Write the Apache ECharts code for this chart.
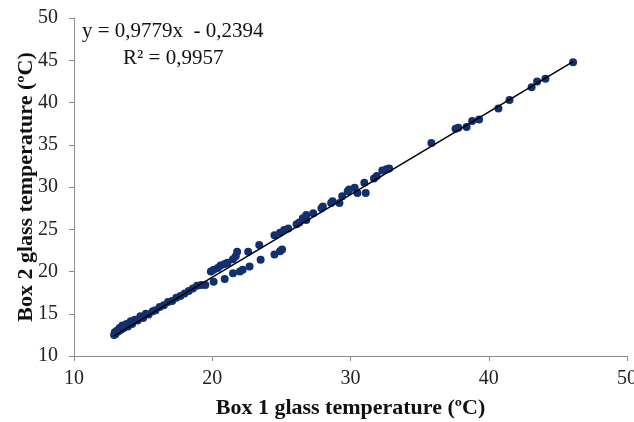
<!DOCTYPE html>
<html>
<head>
<meta charset="utf-8">
<script src="https://cdn.jsdelivr.net/npm/echarts@6/dist/echarts.min.js"></script>
<style>
  html, body { margin: 0; padding: 0; background: #fff; }
  #chart { width: 634px; height: 422px; }
</style>
</head>
<body>
<div id="chart"></div>
<script>
// box 1 / box 2 glass temperature pairs
var lowPoints = [
  [12.9, 12.5], [12.95, 12.8], [13.0, 12.6], [13.1, 13.0], [13.2, 12.9],
  [13.3, 13.3], [13.4, 13.1], [13.5, 13.6], [13.6, 13.3], [13.8, 13.8],
  [13.9, 13.5], [14.1, 14.1], [14.2, 13.8], [14.4, 14.3], [14.6, 14.2],
  [14.8, 14.7], [15.0, 14.5], [15.2, 15.0], [15.4, 14.9], [15.7, 15.3],
  [15.9, 15.4], [16.2, 15.8], [16.5, 16.0], [16.8, 16.4], [17.1, 16.5],
  [17.4, 16.9], [17.7, 17.1], [18.0, 17.4], [18.3, 17.7], [18.6, 18.0],
  [18.9, 18.3]
];
var lowerBranch = [
  [19.2, 18.4], [19.5, 18.4], [20.1, 18.8], [20.9, 19.1], [21.5, 19.8],
  [22.0, 20.0], [22.2, 20.2], [22.7, 20.6], [23.5, 21.4], [24.5, 22.0],
  [24.9, 22.4], [25.05, 22.6]
];
var upperBranch = [
  [19.9, 20.0], [20.1, 20.2], [20.4, 20.4], [20.6, 20.7], [20.9, 20.9],
  [21.1, 21.05], [21.5, 21.45], [21.7, 21.8], [21.8, 22.35], [22.6, 22.35],
  [23.4, 23.15], [24.5, 24.3], [24.9, 24.6], [25.2, 24.9], [25.5, 25.1],
  [26.1, 25.6], [26.3, 25.8], [26.8, 26.1]
];
var midPoints = [
  [26.55, 26.3], [26.8, 26.7], [27.3, 26.9], [27.9, 27.5], [28.0, 27.7],
  [28.6, 28.1], [28.7, 28.3], [29.2, 28.1], [29.4, 28.9], [29.8, 29.5],
  [29.9, 29.7], [30.3, 29.9], [30.5, 29.3], [31.0, 30.5], [31.1, 29.3],
  [31.7, 31.0], [31.9, 31.3], [32.3, 31.95], [32.6, 32.1], [32.8, 32.2]
];
var highPoints = [
  [35.85, 35.2], [37.6, 36.9], [37.8, 37.0], [38.4, 37.1], [38.8, 37.8],
  [39.3, 38.0], [40.7, 39.3], [41.5, 40.3], [43.1, 41.8], [43.5, 42.5],
  [44.1, 42.8], [46.1, 44.75]
];

// linear trendline shown on the chart
var slope = 0.9779;
var intercept = -0.2394;
var trendX = [12.9, 46.1];
var xTicks = [10, 20, 30, 40, 50];
var yTicks = [10, 15, 20, 25, 30, 35, 40, 45, 50];

var allPoints = lowPoints.concat(lowerBranch, upperBranch, midPoints, highPoints);
var trendData = trendX.map(function (x) { return [x, slope * x + intercept]; });

var chart = echarts.init(document.getElementById('chart'));
var serif = '"Liberation Serif", "DejaVu Serif", serif';

var option = {
  animation: false,
  grid: { left: 74, top: 18, right: 7, bottom: 66, containLabel: false, outerBoundsMode: 'none' },
  xAxis: {
    type: 'value',
    min: xTicks[0], max: xTicks[xTicks.length - 1], interval: 10,
    name: 'Box 1 glass temperature (ºC)',
    nameLocation: 'middle', nameGap: 41, nameMoveOverlap: false,
    nameTextStyle: { fontFamily: serif, fontWeight: 'bold', fontSize: 22, color: '#111' },
    axisLine: { lineStyle: { color: '#8c8c8c', width: 1 } },
    axisTick: { show: true, length: 5, lineStyle: { color: '#8c8c8c' } },
    axisLabel: { fontFamily: serif, fontSize: 20, color: '#222', margin: 13 },
    splitLine: { show: false }
  },
  yAxis: {
    type: 'value',
    min: yTicks[0], max: yTicks[yTicks.length - 1], interval: 5,
    name: 'Box 2 glass temperature (ºC)',
    nameLocation: 'middle', nameGap: 37, nameMoveOverlap: false,
    nameTextStyle: { fontFamily: serif, fontWeight: 'bold', fontSize: 22, color: '#111' },
    axisLine: { show: true, lineStyle: { color: '#8c8c8c', width: 1 } },
    axisTick: { show: true, length: 5, lineStyle: { color: '#8c8c8c' } },
    axisLabel: { fontFamily: serif, fontSize: 20, color: '#222', margin: 16 },
    splitLine: { show: false }
  },
  graphic: [
    {
      type: 'text', left: 82, top: 21,
      style: { text: 'y = 0,9779x  - 0,2394', fontFamily: serif, fontSize: 21, fill: '#111' }
    },
    {
      type: 'text', left: 123, top: 48,
      style: { text: 'R² = 0,9957', fontFamily: serif, fontSize: 21, fill: '#111' }
    }
  ],
  series: [
    {
      type: 'scatter',
      data: allPoints,
      symbolSize: 8,
      itemStyle: { color: '#12306e', opacity: 1 },
      z: 2
    },
    {
      type: 'line',
      data: trendData,
      symbol: 'none',
      lineStyle: { color: '#000', width: 1.5 },
      z: 3
    }
  ]
};

chart.setOption(option);
</script>
</body>
</html>
